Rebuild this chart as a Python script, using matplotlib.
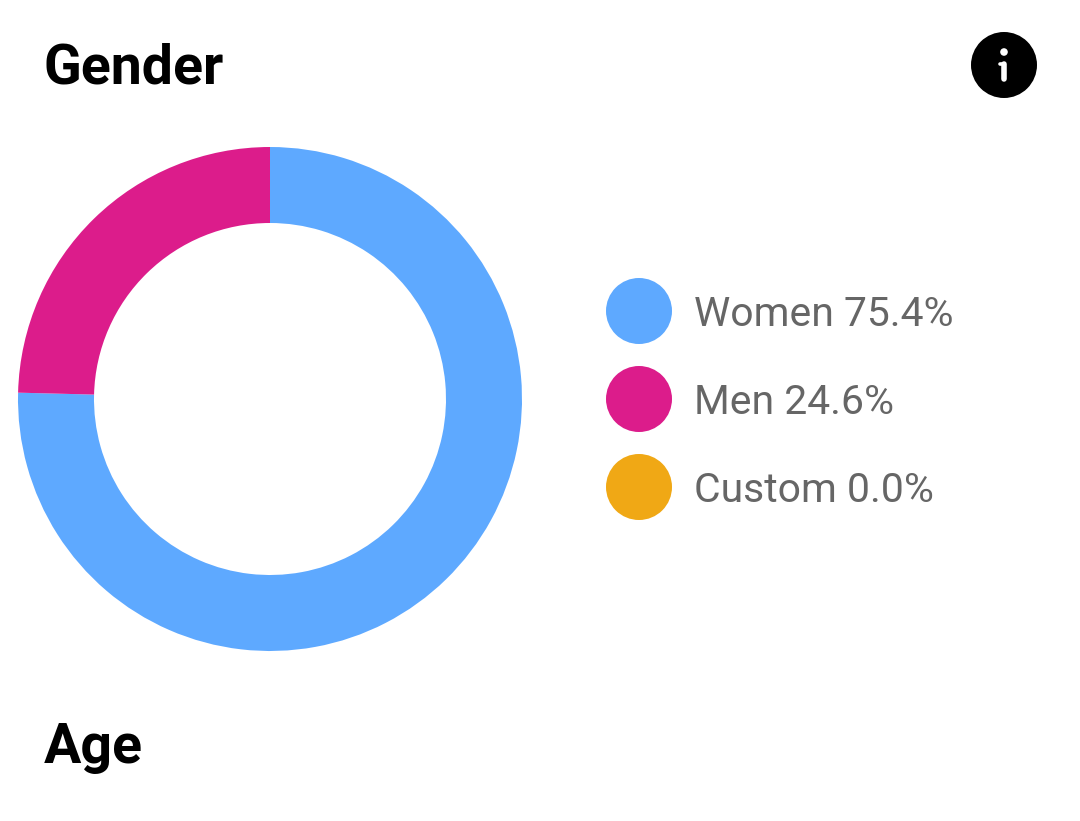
import matplotlib
matplotlib.use("Agg")
import matplotlib.pyplot as plt
from matplotlib.patches import Circle

categories = ["Women", "Men", "Custom"]
values = [75.4, 24.6, 0.0]
colors = ["#5EA9FF", "#DC1C8B", "#F0A815"]

W, H = 1080, 821
plt.rcParams['font.family'] = ['Roboto', 'DejaVu Sans']
fig = plt.figure(figsize=(W/100, H/100), dpi=100, facecolor="white")

# Overlay axes in pixel coordinates
bg = fig.add_axes([0, 0, 1, 1])
bg.set_xlim(0, W); bg.set_ylim(H, 0); bg.axis("off")

# Donut
cx, cy, R = 270, 399, 252
ax = fig.add_axes([(cx-R)/W, 1-(cy+R)/H, 2*R/W, 2*R/H])
ax.pie(values, colors=colors, startangle=90, counterclock=False, radius=1,
       wedgeprops=dict(width=76/252, linewidth=0), normalize=True)
ax.set_xlim(-1, 1); ax.set_ylim(-1, 1)

# Titles
bg.text(43, 69, "Gender", fontsize=40, fontweight="bold", color="black", va="center", ha="left")
bg.text(44, 748, "Age", fontsize=40, fontweight="bold", color="black", va="center", ha="left")

# Legend
ys = [311, 399, 487]
for y, c, cat, v in zip(ys, colors, categories, values):
    bg.add_patch(Circle((639, y), 33, color=c, lw=0))
    bg.text(694, y+3, f"{cat} {v:.1f}%", fontsize=29.4, color="#666666", va="center", ha="left")

# Info icon
bg.add_patch(Circle((1004, 65), 33, color="black", lw=0))
bg.add_patch(Circle((1004, 52), 3.8, color="white", lw=0))
bg.plot([1004, 1004], [64, 79], color="white", lw=4, solid_capstyle="round")
bg.plot([1000, 1004], [64, 64], color="white", lw=2.6, solid_capstyle="round")

fig.savefig("out.png", dpi=100)
